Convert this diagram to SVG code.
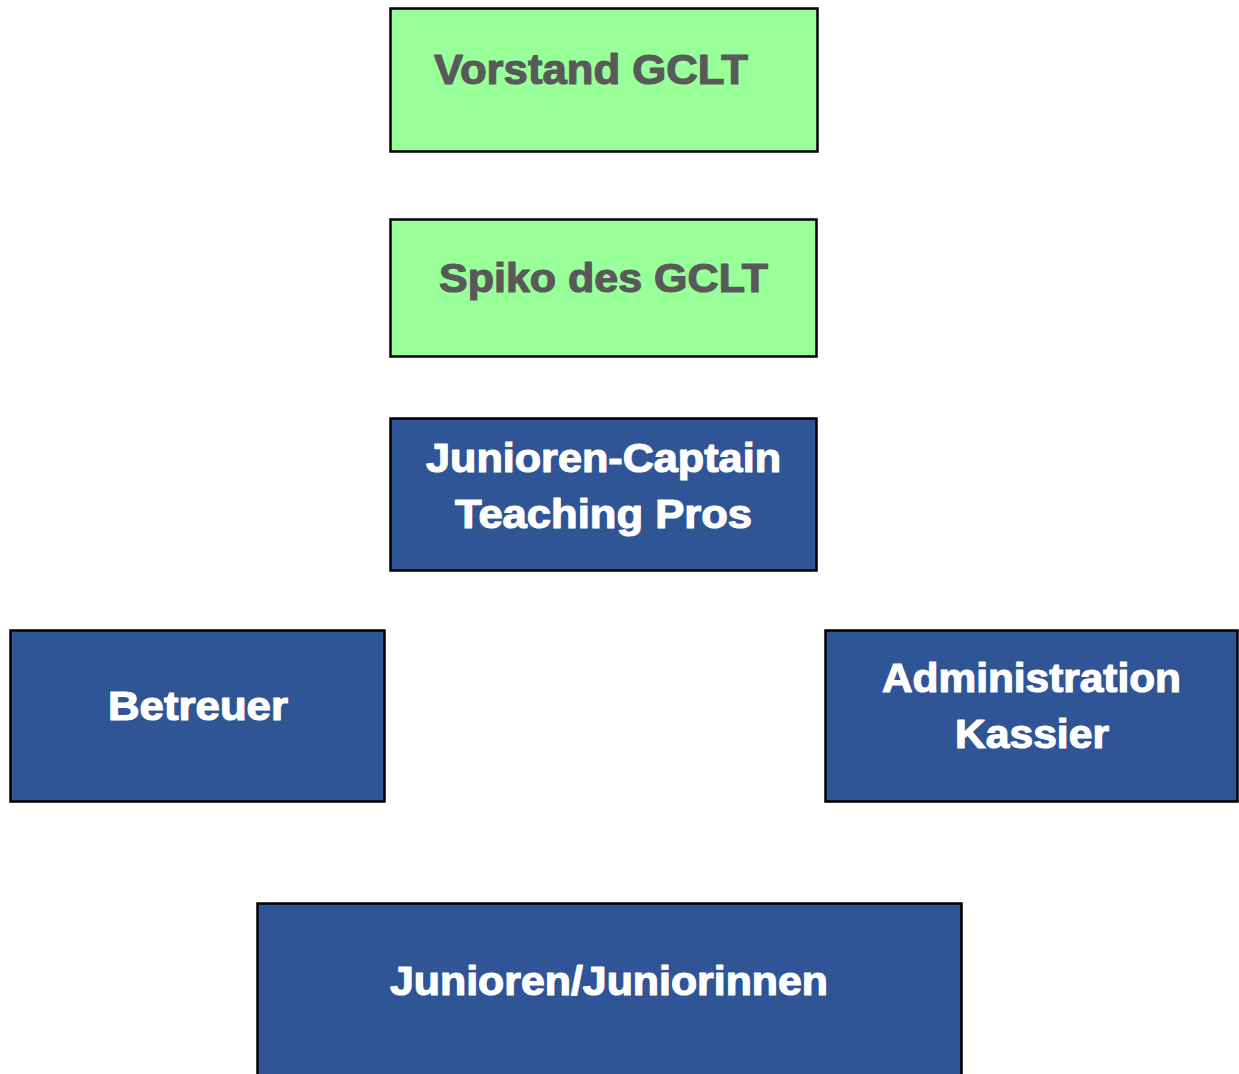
<svg xmlns="http://www.w3.org/2000/svg" width="1239" height="1074" viewBox="0 0 1239 1074">
<style>
.green{fill:#99FF99;stroke:#000;stroke-width:2.5}
.blue{fill:#2F5597;stroke:#000;stroke-width:2.5}
.t{font-family:"Liberation Sans",Arial,sans-serif;font-weight:bold;font-size:40px;stroke-width:1.2;stroke-linejoin:round}
.dark{fill:#595959;stroke:#595959}
.white{fill:#fff;stroke:#fff}
</style>
<rect width="1239" height="1074" fill="#fff"/>
<g id="connectors"></g>
<g id="vorstand">
<rect class="green" x="390.5" y="8.5" width="427" height="143"/>
<text class="t dark" x="434" y="84" style="font-size:42px" textLength="314" lengthAdjust="spacingAndGlyphs">Vorstand GCLT</text>
</g>
<g id="spiko">
<rect class="green" x="390.5" y="219.5" width="426" height="137"/>
<text class="t dark" x="439" y="292" textLength="329" lengthAdjust="spacingAndGlyphs">Spiko des GCLT</text>
</g>
<g id="captain">
<rect class="blue" x="390.5" y="418.5" width="426" height="152"/>
<text class="t white" x="426" y="472" textLength="355" lengthAdjust="spacingAndGlyphs">Junioren-Captain</text>
<text class="t white" x="455" y="528" textLength="297" lengthAdjust="spacingAndGlyphs">Teaching Pros</text>
</g>
<g id="betreuer">
<rect class="blue" x="10.5" y="630.5" width="374" height="171"/>
<text class="t white" x="108" y="720" textLength="180" lengthAdjust="spacingAndGlyphs">Betreuer</text>
</g>
<g id="administration">
<rect class="blue" x="825.5" y="630.5" width="412" height="171"/>
<text class="t white" x="882" y="692" textLength="299" lengthAdjust="spacingAndGlyphs">Administration</text>
<text class="t white" x="955" y="748" textLength="154" lengthAdjust="spacingAndGlyphs">Kassier</text>
</g>
<g id="junioren">
<rect class="blue" x="257.5" y="903.5" width="704" height="180"/>
<text class="t white" x="390" y="995" textLength="438" lengthAdjust="spacingAndGlyphs">Junioren/Juniorinnen</text>
</g>
</svg>
